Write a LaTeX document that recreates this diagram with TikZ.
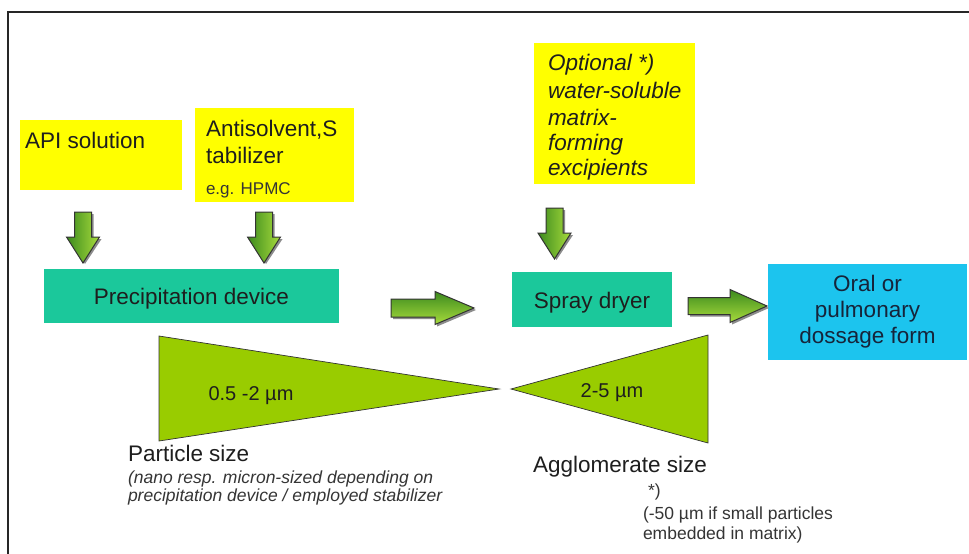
\documentclass[tikz,border=0pt]{standalone}
\usepackage{fontspec}
\setmainfont{Liberation Sans}
\usetikzlibrary{calc}
\definecolor{ybox}{HTML}{FFFF00}
\definecolor{tealbox}{HTML}{1BC89B}
\definecolor{bluebox}{HTML}{1CC4EE}
\definecolor{trigreen}{HTML}{99CC00}
\definecolor{arrdark}{HTML}{3C8A1E}
\definecolor{arrlight}{HTML}{A8DC3C}
\definecolor{txt}{HTML}{1E1E1E}
\definecolor{navytxt}{HTML}{16243A}
\begin{document}
\begin{tikzpicture}[x=1pt,y=-1pt,
  every node/.style={inner sep=0pt, outer sep=0pt},
  fillbox/.style={draw=none, rectangle, anchor=north west},
  bigtext/.style={text=txt, font=\fontsize{22.5}{26}\selectfont},
  itext/.style={text=txt, font=\fontsize{22.5}{26}\selectfont\itshape},
  smalltext/.style={text=txt!90, font=\fontsize{17.5}{20}\selectfont},
  smallitext/.style={text=txt!90, font=\fontsize{17.5}{20}\selectfont\itshape},
  arrv/.style={draw=black!80, line width=1pt, line join=miter, left color=arrdark, right color=arrlight},
  arrh/.style={draw=black!80, line width=1pt, line join=miter, top color=arrdark, bottom color=arrlight},
  arrshadow/.style={fill=black!45},
  tri/.style={fill=trigreen, draw=black!80, line width=0.7pt, line join=miter}]
\useasboundingbox (0,0) rectangle (969,554);
\fill[white] (0,0) rectangle (969,554);
% frame
\draw[line width=2pt, black!85] (8,554) -- (8,12) -- (969,12);

% boxes
\node[fillbox, fill=ybox, minimum width=162pt, minimum height=70pt] (api) at (20,120) {};
\node[fillbox, fill=ybox, minimum width=159pt, minimum height=94pt] (anti) at (195,108) {};
\node[fillbox, fill=ybox, minimum width=161pt, minimum height=141pt] (opt) at (534,43) {};
\node[fillbox, fill=tealbox, minimum width=295pt, minimum height=54pt] (prec) at (44,269) {};
\node[fillbox, fill=tealbox, minimum width=160pt, minimum height=55pt] (spray) at (512,272) {};
\node[fillbox, fill=bluebox, minimum width=199pt, minimum height=96pt] (oral) at (768,264) {};

% box texts
\node[bigtext, anchor=base west] (apit) at (25,148) {API solution};
\node[bigtext, anchor=base west] (antia) at (206,136) {Antisolvent,S};
\node[bigtext, anchor=base west] (antib) at (206,163) {tabilizer};
\node[smalltext, font=\fontsize{17}{20}\selectfont, anchor=base west] (antic) at (206,194) {e.g. HPMC};
\node[itext, anchor=base west] (opta) at (548,70) {Optional *)};
\node[itext, anchor=base west] (optb) at (548,98) {water-soluble};
\node[itext, anchor=base west] (optc) at (548,125) {matrix-};
\node[itext, anchor=base west] (optd) at (548,150) {forming};
\node[itext, anchor=base west] (opte) at (548,175) {excipients};
\node[bigtext, anchor=base] (prect) at (prec.center |- 0,304) {Precipitation device};
\node[bigtext, anchor=base] (sprayt) at (spray.center |- 0,308) {Spray dryer};
\node[bigtext, text=navytxt, align=center] (oralt) at (oral.center) {Oral or\\pulmonary\\dossage form};

% down arrows
\coordinate (d1) at (83,212);
\coordinate (d2) at (264,212);
\coordinate (d3) at (554.5,208);
\foreach \c in {d1,d2,d3}{
  \begin{scope}[shift={(\c)}]
    \path[arrshadow] (-6.5,2) -- (10.5,2) -- (10.5,27) -- (18.5,27) -- (2,52) -- (-14.5,27) -- (-6.5,27) -- cycle;
    \path[arrv] (-8.5,0) -- (8.5,0) -- (8.5,25) -- (16.5,25) -- (0,51) -- (-16.5,25) -- (-8.5,25) -- cycle;
  \end{scope}
}
% right arrows
\coordinate (r1) at (391,308);
\coordinate (r2) at (688,306);
\begin{scope}[shift={(r1)}]
  \path[arrshadow] (2,-7) -- (46,-7) -- (46,-14.5) -- (85,2) -- (46,18.5) -- (46,11) -- (2,11) -- cycle;
  \path[arrh] (0,-9) -- (44,-9) -- (44,-16.5) -- (83,0) -- (44,16.5) -- (44,9) -- (0,9) -- cycle;
\end{scope}
\begin{scope}[shift={(r2)}]
  \path[arrshadow] (2,-6.5) -- (44,-6.5) -- (44,-14.5) -- (81,2) -- (44,18.5) -- (44,10.5) -- (2,10.5) -- cycle;
  \path[arrh] (0,-8.5) -- (42,-8.5) -- (42,-16.5) -- (79,0) -- (42,16.5) -- (42,8.5) -- (0,8.5) -- cycle;
\end{scope}

% triangles
\coordinate (ta) at (159,336);
\coordinate (tb) at (159,441);
\coordinate (tc) at (499,389);
\coordinate (ua) at (511,389);
\coordinate (ub) at (708,335);
\coordinate (uc) at (708,443);
\draw[tri] (ta) -- (tb) -- (tc) -- cycle;
\draw[tri] (ua) -- (ub) -- (uc) -- cycle;
\node[text=txt, font=\fontsize{20}{24}\selectfont, anchor=base] (ps) at (251,400) {0.5 -2 µm};
\node[text=txt, font=\fontsize{20}{24}\selectfont, anchor=base] (as) at (612,397) {2-5 µm};

% lower labels
\node[bigtext, anchor=base west] (pst) at (128,461) {Particle size};
\node[smallitext, anchor=base west] (psa) at (128,483) {(nano resp. micron-sized depending on};
\node[smallitext, anchor=base west] (psb) at (128,501) {precipitation device / employed stabilizer};
\node[bigtext, anchor=base west] (agt) at (533,472) {Agglomerate size};
\node[smalltext, anchor=base west] (ast) at (648,496) {*)};
\node[smalltext, anchor=base west] (aga) at (643,519) {(-50 µm if small particles};
\node[smalltext, anchor=base west] (agb) at (643,539) {embedded in matrix)};
\end{tikzpicture}
\end{document}
